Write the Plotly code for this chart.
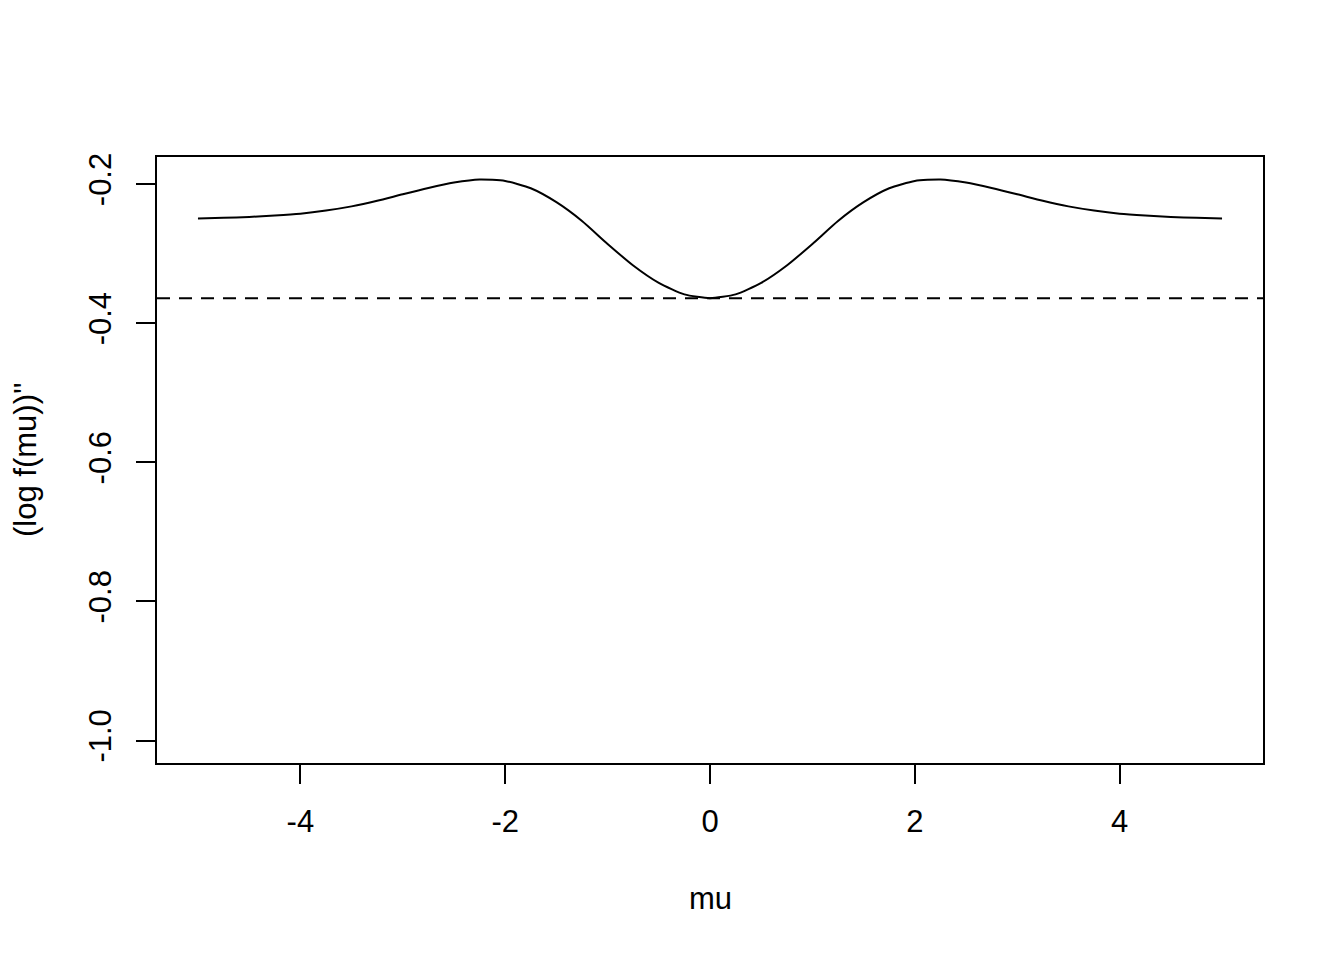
import plotly.graph_objects as go

# data
mu = [-5.0, -4.75, -4.5, -4.25, -4.0, -3.75, -3.5, -3.25, -3.0, -2.75, -2.5, -2.25,
      -2.0, -1.75, -1.5, -1.25, -1.0, -0.75, -0.5, -0.25, 0.0,
      0.25, 0.5, 0.75, 1.0, 1.25, 1.5, 1.75, 2.0, 2.25, 2.5, 2.75, 3.0,
      3.25, 3.5, 3.75, 4.0, 4.25, 4.5, 4.75, 5.0]
d2logf = [-0.2493, -0.2484, -0.2472, -0.2452, -0.2425, -0.2380, -0.2320, -0.2240, -0.2145,
          -0.2055, -0.1978, -0.1933, -0.1955, -0.2060, -0.2260, -0.2530, -0.2860, -0.3170,
          -0.3420, -0.3585, -0.3640,
          -0.3585, -0.3420, -0.3170, -0.2860, -0.2530, -0.2260, -0.2060, -0.1955, -0.1933,
          -0.1978, -0.2055, -0.2145, -0.2240, -0.2320, -0.2380, -0.2425, -0.2452, -0.2472,
          -0.2484, -0.2493]
hline_value = -0.364
x_ticks = [-4, -2, 0, 2, 4]
x_ticklabels = ["-4", "-2", "0", "2", "4"]
y_ticks = [-1.0, -0.8, -0.6, -0.4, -0.2]
y_ticklabels = ["-1.0", "-0.8", "-0.6", "-0.4", "-0.2"]

FONT = "Liberation Sans, Arial, sans-serif"

fig = go.Figure()
fig.add_trace(go.Scatter(x=mu, y=d2logf, mode="lines", line=dict(color="black", width=2, shape="spline", smoothing=0.6),
                         showlegend=False, hoverinfo="skip"))
fig.add_shape(type="line", xref="paper", yref="y", x0=0, x1=1, y0=hline_value, y1=hline_value,
              line=dict(color="black", width=2, dash="13px,9px"))

axis_common = dict(showline=True, mirror=True, linecolor="black", linewidth=2, ticks="outside",
                   ticklen=19, tickwidth=2, tickcolor="black", showgrid=False, zeroline=False,
                   tickfont=dict(family=FONT, size=31, color="black"))

fig.update_layout(
    width=1328, height=944,
    margin=dict(l=149, r=73, t=149, b=189),
    paper_bgcolor="white", plot_bgcolor="white",
    xaxis=dict(range=[-5.4, 5.4], tickmode="array", tickvals=x_ticks, ticktext=x_ticklabels,
               ticklabelstandoff=11, **axis_common),
    yaxis=dict(range=[-1.0323, -0.161], tickmode="array", tickvals=y_ticks, ticktext=y_ticklabels,
               tickangle=-90, ticklabelstandoff=13, **axis_common),
    annotations=[
        dict(text="mu", xref="paper", yref="paper", x=0.5, y=-(898 - 763) / 606, yanchor="middle",
             xanchor="center", showarrow=False, font=dict(family=FONT, size=31, color="black")),
        dict(text="(log f(mu))''", xref="paper", yref="paper", x=(25 - 157) / 1106, y=0.5,
             xanchor="center", yanchor="middle", textangle=-90, showarrow=False,
             font=dict(family=FONT, size=31, color="black")),
    ],
)

fig.write_html("out.html")
